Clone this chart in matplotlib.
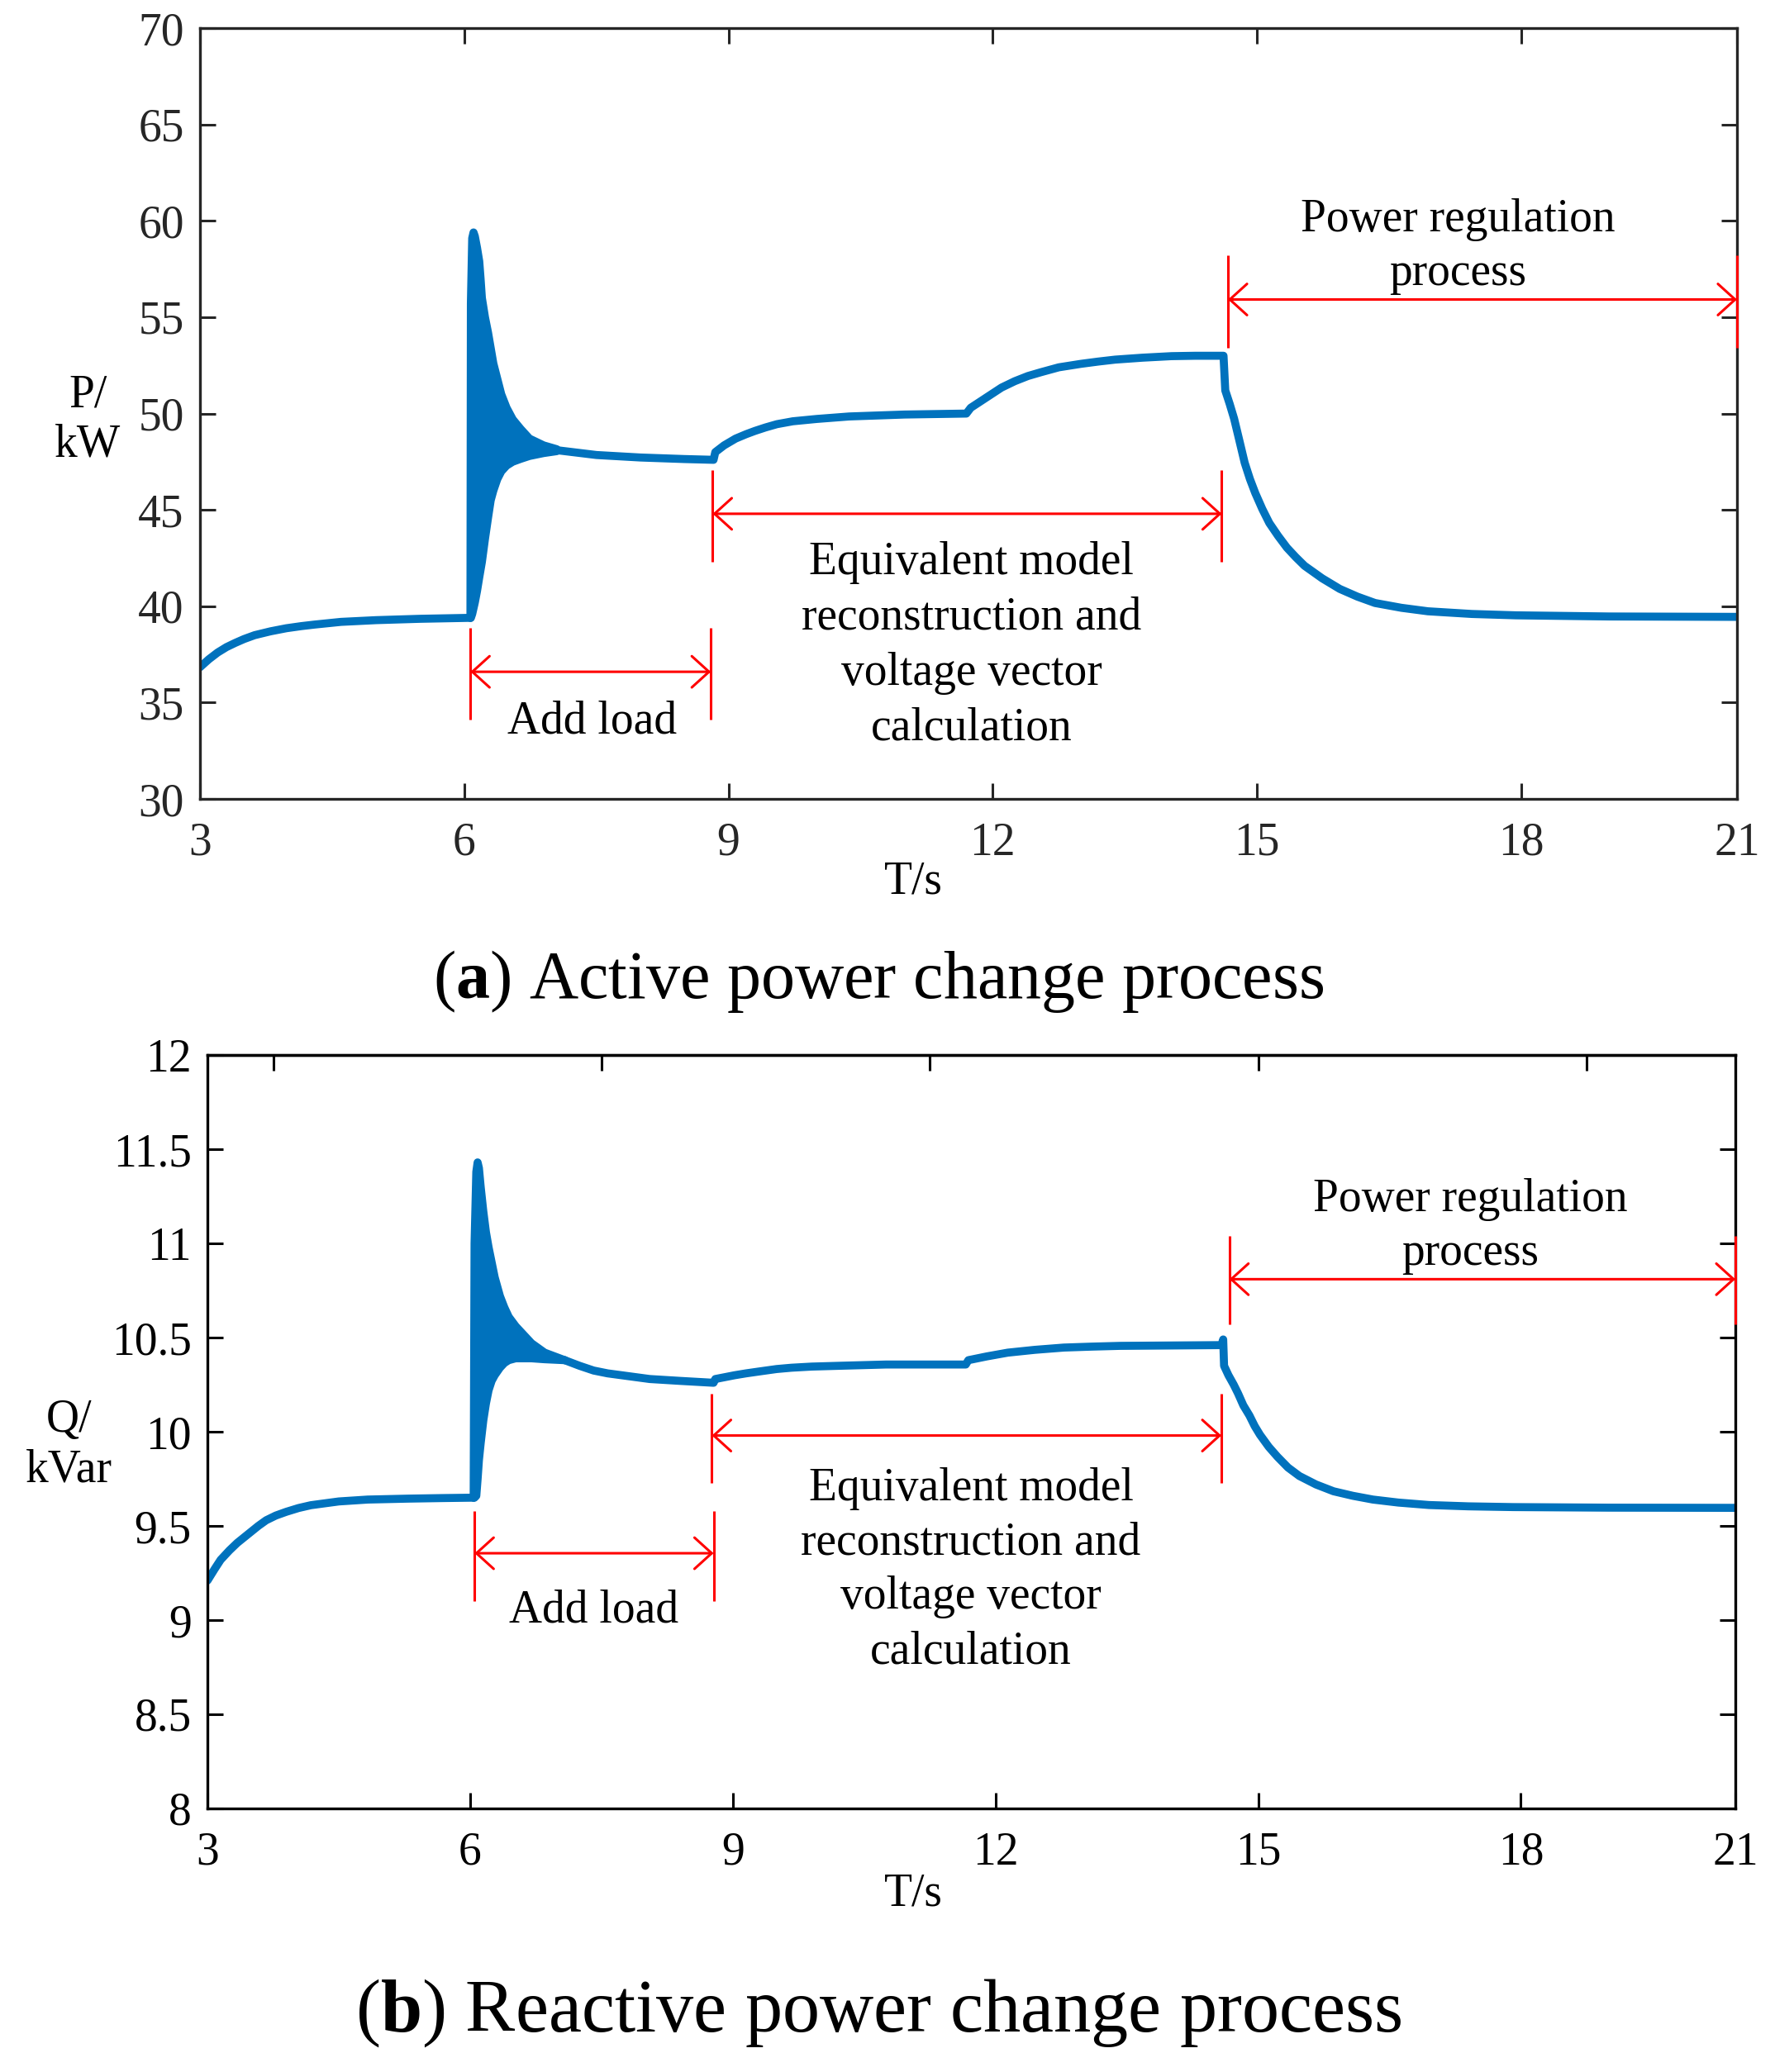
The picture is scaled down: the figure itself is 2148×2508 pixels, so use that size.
import matplotlib
matplotlib.use("Agg")
import matplotlib.pyplot as plt
import numpy as np

plt.rcParams['font.family'] = ['Liberation Serif', 'DejaVu Serif']
plt.rcParams['mathtext.fontset'] = 'custom'
plt.rcParams['mathtext.rm'] = 'Liberation Serif'
plt.rcParams['mathtext.bf'] = 'Liberation Serif:bold'

BLUE = '#0072BD'

# ---- time axis / ticks ----
t_end = 20.45
x_ticks = [3, 6, 9, 12, 15, 18, t_end]
x_tick_labels = ['3', '6', '9', '12', '15', '18', '21']
q_top_ticks = [3.75, 7.5, 11.25, 15, 18.75]

# ---- active power P (kW) ----
p_pre_t = [3.0, 3.1, 3.2, 3.3, 3.4, 3.5, 3.62, 3.8, 3.98, 4.15, 4.3, 4.6,
           5.0, 5.5, 6.07]
p_pre_v = [36.84, 37.25, 37.6, 37.88, 38.1, 38.3, 38.5, 38.7, 38.86, 38.97,
           39.05, 39.19, 39.28, 39.35, 39.4]

p_env_t = [6.07, 6.075, 6.09, 6.105, 6.12, 6.145, 6.17, 6.185, 6.20, 6.235,
           6.27, 6.30, 6.33, 6.375, 6.42, 6.48, 6.55, 6.64, 6.74, 6.9, 7.05]
p_env_hi = [39.4, 55.7, 59.1, 59.4, 59.2, 58.6, 57.9, 57.0, 56.0, 55.0, 54.2,
            53.4, 52.6, 51.8, 51.0, 50.3, 49.7, 49.2, 48.7, 48.35, 48.15]
p_env_lo = [39.4, 39.4, 39.6, 39.9, 40.2, 40.8, 41.5, 41.9, 42.3, 43.5, 44.6,
            45.5, 46.0, 46.6, 47.0, 47.3, 47.5, 47.65, 47.8, 47.95, 48.05]

p_post_t = [7.05, 7.5, 8.0, 8.5, 8.83, 8.85, 8.95, 9.08, 9.2, 9.3, 9.42, 9.55,
            9.73, 10.0, 10.37, 11.0, 11.7, 11.75, 11.9, 12.1, 12.25, 12.4,
            12.55, 12.75, 13.0, 13.2, 13.39, 13.7, 14.03, 14.3, 14.62, 14.64,
            14.69, 14.74, 14.8, 14.86, 14.92, 14.98, 15.06, 15.14, 15.24,
            15.34, 15.44, 15.54, 15.74, 15.94, 16.14, 16.34, 16.64, 16.94,
            17.44, 17.94, 19.0, t_end]
p_post_v = [48.1, 47.85, 47.72, 47.64, 47.6, 48.0, 48.35, 48.7, 48.93, 49.1,
            49.28, 49.45, 49.6, 49.72, 49.85, 49.95, 50.0, 50.3, 50.75, 51.35,
            51.68, 51.95, 52.15, 52.4, 52.58, 52.7, 52.8, 52.9, 52.98, 53.0,
            53.0, 51.2, 50.5, 49.74, 48.6, 47.45, 46.6, 45.88, 45.05, 44.32,
            43.65, 43.04, 42.55, 42.1, 41.45, 40.9, 40.5, 40.17, 39.92, 39.74,
            39.6, 39.53, 39.47, 39.45]

# ---- reactive power Q (kVar) ----
q_pre_t = [3.0, 3.08, 3.15, 3.25, 3.34, 3.42, 3.5, 3.58, 3.67, 3.78, 3.9,
           4.04, 4.18, 4.34, 4.5, 4.83, 5.3, 5.7, 6.04]
q_pre_v = [9.21, 9.27, 9.32, 9.37, 9.41, 9.44, 9.47, 9.50, 9.53, 9.555, 9.575,
           9.595, 9.61, 9.62, 9.63, 9.64, 9.645, 9.648, 9.65]

q_env_t = [6.04, 6.05, 6.07, 6.085, 6.10, 6.12, 6.15, 6.18, 6.21, 6.245, 6.28,
           6.34, 6.39, 6.44, 6.52, 6.6, 6.7, 6.85, 7.08]
q_env_hi = [9.65, 11.0, 11.38, 11.43, 11.4, 11.3, 11.17, 11.06, 10.98, 10.9,
            10.82, 10.72, 10.66, 10.61, 10.56, 10.52, 10.47, 10.42, 10.38]
q_env_lo = [9.65, 9.65, 9.66, 9.75, 9.85, 9.94, 10.06, 10.15, 10.22, 10.27,
            10.30, 10.34, 10.365, 10.38, 10.39, 10.39, 10.39, 10.385, 10.38]

q_post_t = [7.08, 7.25, 7.41, 7.57, 7.73, 8.05, 8.4, 8.78, 8.8, 9.02, 9.15,
            9.3, 9.5, 9.67, 9.9, 10.2, 10.75, 11.66, 11.69, 11.9, 12.14, 12.45,
            12.78, 13.1, 13.42, 14.0, 14.58, 14.6, 14.61, 14.66, 14.72, 14.77,
            14.83, 14.9, 14.96, 15.02, 15.12, 15.22, 15.34, 15.47, 15.66,
            15.86, 16.08, 16.31, 16.6, 16.95, 17.4, 17.91, 19.0, t_end]
q_post_v = [10.38, 10.35, 10.325, 10.31, 10.30, 10.28, 10.27, 10.26, 10.28,
            10.30, 10.31, 10.32, 10.333, 10.34, 10.346, 10.35, 10.357, 10.357,
            10.38, 10.40, 10.42, 10.435, 10.447, 10.452, 10.456, 10.458, 10.46,
            10.49, 10.35, 10.30, 10.25, 10.203, 10.14, 10.086, 10.03, 9.984,
            9.92, 9.867, 9.81, 9.765, 9.72, 9.684, 9.66, 9.64, 9.624, 9.611,
            9.604, 9.60, 9.597, 9.596]

LW = 7
FS = 40


def draw_series(ax, pre_t, pre_v, env_t, env_hi, env_lo, post_t, post_v):
    ax.plot(pre_t, pre_v, color=BLUE, lw=LW, solid_capstyle='round',
            solid_joinstyle='round')
    ax.fill_between(env_t, env_lo, env_hi, color=BLUE, lw=0)
    ax.plot(env_t, env_hi, color=BLUE, lw=LW, solid_capstyle='round',
            solid_joinstyle='round')
    ax.plot(env_t, env_lo, color=BLUE, lw=LW, solid_capstyle='round',
            solid_joinstyle='round')
    ax.plot(post_t, post_v, color=BLUE, lw=LW, solid_capstyle='round',
            solid_joinstyle='round')


def span_arrow(ax, x0, x1, y, y_lo, y_hi):
    ax.vlines([x0, x1], y_lo, y_hi, colors='red', lw=2.2, clip_on=False, zorder=4)
    ax.annotate('', xy=(x1, y), xytext=(x0, y),
                arrowprops=dict(arrowstyle='<->,head_length=0.75,head_width=0.68',
                                mutation_scale=20, color='red', lw=2.2,
                                shrinkA=0, shrinkB=0),
                annotation_clip=False, zorder=4)


def style_axes(ax, ylim, yticks, ylabels, color):
    ax.set_xlim(3, t_end)
    ax.set_ylim(*ylim)
    ax.set_xticks(x_ticks, x_tick_labels)
    ax.set_yticks(yticks, ylabels)
    for s in ax.spines.values():
        s.set_linewidth(2.4)
        s.set_color(color)
    ax.tick_params(direction='in', length=14, width=2.2, labelsize=FS,
                   colors=color, right=True)
    ax.tick_params(axis='x', pad=20)
    ax.tick_params(axis='y', pad=14)


fig = plt.figure(figsize=(21.48, 25.08), dpi=100)

# ---------------- (a) active power ----------------
ax1 = fig.add_axes([0.1127, 0.6144, 0.8659, 0.3720])
draw_series(ax1, p_pre_t, p_pre_v, p_env_t, p_env_hi, p_env_lo, p_post_t, p_post_v)
style_axes(ax1, (30, 70), list(range(30, 71, 5)), [str(v) for v in range(30, 71, 5)], '#262626')
ax1.tick_params(top=True)

span_arrow(ax1, 6.07, 8.80, 36.6, 34.13, 38.88)
span_arrow(ax1, 8.82, 14.6, 44.8, 42.3, 47.07)
span_arrow(ax1, 14.67, t_end, 55.92, 53.43, 58.21)
ax1.text(7.45, 33.4, 'Add load', fontsize=FS, ha='center', va='baseline')
for txt, yb in zip(['Equivalent model', 'reconstruction and', 'voltage vector', 'calculation'],
                   [41.67, 38.8, 35.92, 33.05]):
    ax1.text(11.76, yb, txt, fontsize=FS, ha='center', va='baseline')
ax1.text(17.28, 59.46, 'Power regulation', fontsize=FS, ha='center', va='baseline')
ax1.text(17.28, 56.67, 'process', fontsize=FS, ha='center', va='baseline')

ax1.text(-0.073, 0.492, 'P/\nkW', transform=ax1.transAxes, fontsize=FS,
         ha='center', va='center', linespacing=1.2)
ax1.text(0.464, -0.108, 'T/s', transform=ax1.transAxes, fontsize=FS,
         ha='center', va='center')

# ---------------- (b) reactive power ----------------
ax2 = fig.add_axes([0.1169, 0.1272, 0.8608, 0.3636])
draw_series(ax2, q_pre_t, q_pre_v, q_env_t, q_env_hi, q_env_lo, q_post_t, q_post_v)
q_ticks = [8, 8.5, 9, 9.5, 10, 10.5, 11, 11.5, 12]
q_labels = ['8', '8.5', '9', '9.5', '10', '10.5', '11', '11.5', '12']
style_axes(ax2, (8, 12), q_ticks, q_labels, 'black')
ax2.tick_params(top=False)
sec = ax2.secondary_xaxis('top')
sec.set_xticks(q_top_ticks, [])
sec.tick_params(direction='in', length=14, width=2.2, colors='black')
sec.spines['top'].set_linewidth(2.4)

span_arrow(ax2, 6.05, 8.78, 9.355, 9.10, 9.579)
span_arrow(ax2, 8.76, 14.58, 9.98, 9.73, 10.2)
span_arrow(ax2, 14.67, t_end, 10.81, 10.57, 11.04)
ax2.text(7.41, 8.99, 'Add load', fontsize=FS, ha='center', va='baseline')
for txt, yb in zip(['Equivalent model', 'reconstruction and', 'voltage vector', 'calculation'],
                   [9.636, 9.35, 9.06, 8.77]):
    ax2.text(11.72, yb, txt, fontsize=FS, ha='center', va='baseline')
ax2.text(17.42, 11.17, 'Power regulation', fontsize=FS, ha='center', va='baseline')
ax2.text(17.42, 10.886, 'process', fontsize=FS, ha='center', va='baseline')

ax2.text(-0.0909, 0.482, 'Q/\nkVar', transform=ax2.transAxes, fontsize=FS,
         ha='center', va='center', linespacing=1.2)
ax2.text(0.462, -0.113, 'T/s', transform=ax2.transAxes, fontsize=FS,
         ha='center', va='center')

# ---------------- captions ----------------
fig.text(0.495, 0.5263, '(' + r'$\mathbf{a}$' + ') Active power change process',
         fontsize=59, ha='center', va='center')
fig.text(0.495, 0.0283, '(' + r'$\mathbf{b}$' + ') Reactive power change process',
         fontsize=65, ha='center', va='center')

fig.savefig('out.png', dpi=100)
